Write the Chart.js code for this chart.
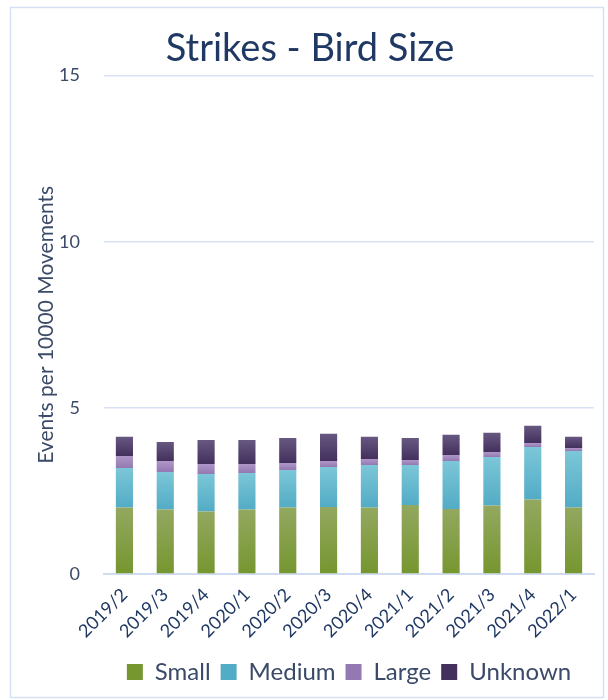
<!DOCTYPE html>
<html>
<head>
<meta charset="utf-8">
<script src="https://cdn.jsdelivr.net/npm/chart.js@4.4.1/dist/chart.umd.min.js"></script>
<style>
  html, body { margin: 0; padding: 0; background: #fff; }
  #wrap { width: 608px; height: 700px; }
</style>
</head>
<body>
<div id="wrap"><canvas id="grafikStrikes" width="608" height="700"></canvas></div>
<script>
// data
const periods = ['2019/2', '2019/3', '2019/4', '2020/1', '2020/2', '2020/3',
    '2020/4', '2021/1', '2021/2', '2021/3', '2021/4', '2022/1'];
const small   = [2.00, 1.94, 1.88, 1.94, 2.00, 2.02, 2.00, 2.08, 1.96, 2.06, 2.24, 2.00];
const medium  = [1.19, 1.13, 1.13, 1.10, 1.13, 1.20, 1.28, 1.20, 1.44, 1.46, 1.58, 1.70];
const large   = [0.36, 0.33, 0.30, 0.27, 0.21, 0.18, 0.18, 0.15, 0.18, 0.15, 0.12, 0.09];
const unknown = [0.58, 0.57, 0.72, 0.72, 0.75, 0.82, 0.67, 0.66, 0.61, 0.58, 0.52, 0.34];
const yTicks  = [0, 5, 10, 15];

const navy = '#1F3864';
const grey = '#3A4A68';

// top / bottom colour of each segment (office-style gradient)
const shades = [
    ['#93A860', '#76962F'],
    ['#7CC6D8', '#52ACC5'],
    ['#AE97C8', '#9478B2'],
    ['#665880', '#43305D']
];

// gradient running from top to bottom of one stacked segment
function segmentFill(context) {
    const chart = context.chart;
    const di = context.datasetIndex;
    if (context.type !== 'data' || !chart.scales.y) {
        return shades[di][1];
    }
    const sets = chart.data.datasets;
    let base = 0;
    for (let k = 0; k < di; k++) base += sets[k].data[context.dataIndex];
    const top = base + sets[di].data[context.dataIndex];
    const y0 = chart.scales.y.getPixelForValue(top);
    const y1 = chart.scales.y.getPixelForValue(base);
    if (!isFinite(y0) || !isFinite(y1) || y0 === y1) {
        return shades[di][1];
    }
    const g = chart.ctx.createLinearGradient(0, y0, 0, y1);
    g.addColorStop(0, shades[di][0]);
    g.addColorStop(1, shades[di][1]);
    return g;
}

// outer frame, legend under the plot area, title nudged
const framePlugin = {
    id: 'frame',
    afterLayout: (chart) => {
        const lg = chart.legend;
        const shift = (chart.chartArea.left + chart.chartArea.right) / 2 - (lg.left + lg.right) / 2;
        lg.left += shift;
        lg.right += shift;
        chart.titleBlock.left += 8;
        chart.titleBlock.right += 8;
    },
    beforeDraw: (chart) => {
        const c = chart.ctx;
        c.save();
        c.strokeStyle = '#D5E1F2';
        c.lineWidth = 1.5;
        c.strokeRect(10.5, 7.5, 593, 690);
        c.restore();
    }
};

const ctx = document.getElementById('grafikStrikes').getContext('2d');
const grafikStrikes = new Chart(ctx, {
    type: 'bar',
    data: {
        labels: periods,
        datasets: [
            { label: 'Small', data: small, backgroundColor: segmentFill },
            { label: 'Medium', data: medium, backgroundColor: segmentFill },
            { label: 'Large', data: large, backgroundColor: segmentFill },
            { label: 'Unknown', data: unknown, backgroundColor: segmentFill }
        ]
    },
    options: {
        responsive: false,
        animation: false,
        barPercentage: 0.42,
        categoryPercentage: 1.0,
        layout: {
            padding: { left: 10, right: 14, top: 0, bottom: 6 }
        },
        plugins: {
            title: {
                display: true,
                text: 'Strikes - Bird Size',
                color: navy,
                font: { family: 'Lato', size: 38, weight: 'normal' },
                padding: { top: 26, bottom: 4 }
            },
            legend: {
                position: 'bottom',
                labels: {
                    color: grey,
                    boxWidth: 16,
                    boxHeight: 16,
                    padding: 10,
                    font: { family: 'Lato', size: 24 },
                    generateLabels: (chart) => chart.data.datasets.map((ds, i) => ({
                        text: ds.label,
                        fillStyle: shades[i][1],
                        strokeStyle: shades[i][1],
                        lineWidth: 0,
                        fontColor: grey,
                        datasetIndex: i
                    }))
                }
            },
            tooltip: { enabled: false }
        },
        scales: {
            x: {
                stacked: true,
                grid: { display: false },
                border: { color: '#CFDCF0', width: 2 },
                afterFit: (scale) => {
                    scale.height = 76;
                },
                ticks: {
                    color: navy,
                    font: { family: 'Lato', size: 18 },
                    minRotation: 45,
                    maxRotation: 45,
                    padding: 2
                }
            },
            y: {
                stacked: true,
                min: 0,
                max: 15,
                afterBuildTicks: (scale) => {
                    scale.ticks = yTicks.map(v => ({ value: v }));
                },
                afterFit: (scale) => {
                    scale.width = 94;
                },
                grid: { color: '#D9E2F3', lineWidth: 1.5, drawTicks: false },
                border: { display: false },
                ticks: {
                    color: grey,
                    font: { family: 'Lato', size: 18 },
                    padding: 24
                },
                title: {
                    display: true,
                    text: 'Events per 10000 Movements',
                    color: grey,
                    font: { family: 'Lato', size: 21 },
                    padding: { top: 24, bottom: 0 }
                }
            }
        }
    },
    plugins: [framePlugin]
});
</script>
</body>
</html>
